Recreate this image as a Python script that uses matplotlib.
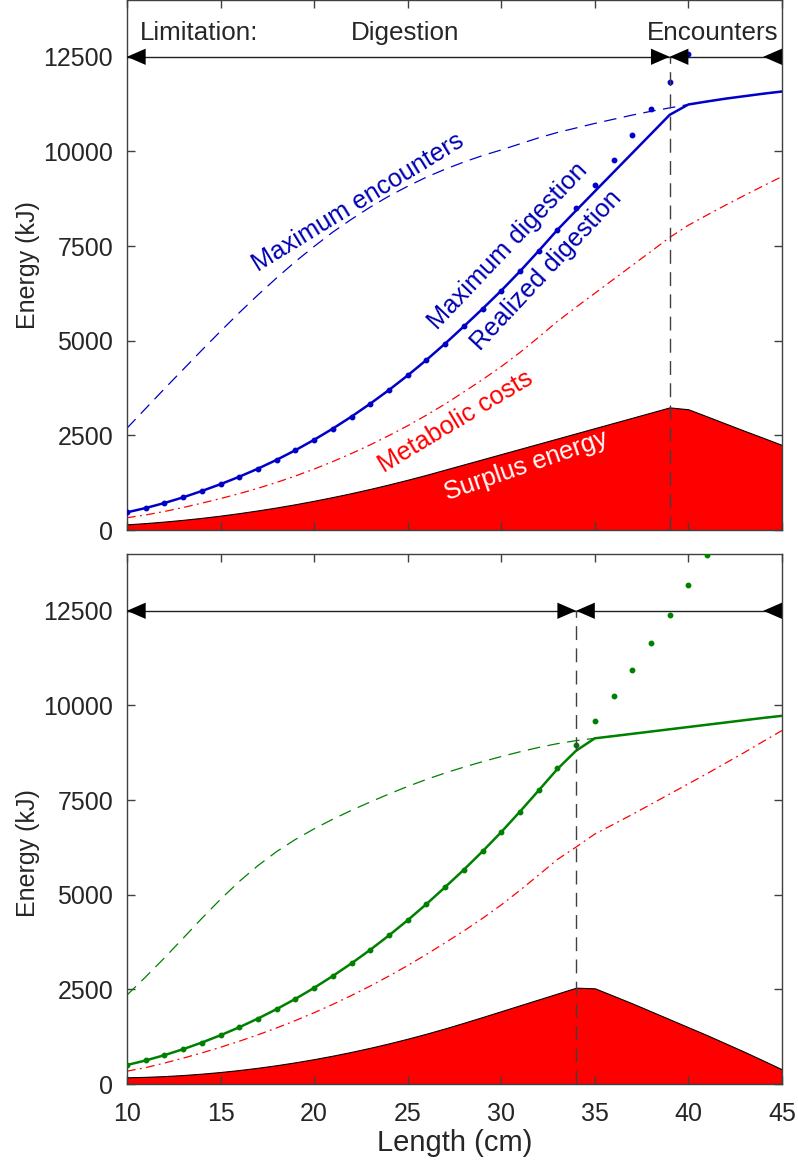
import matplotlib
matplotlib.use("Agg")
import matplotlib.pyplot as plt

plt.rcParams['font.family'] = ['Liberation Sans', 'DejaVu Sans']

# ---------------- data ----------------
length = list(range(10, 46))

# top panel (blue)
top_max_dig_x = list(range(10, 41))
top_max_dig = [467, 581, 713, 863, 1031, 1211, 1407, 1621, 1854, 2108, 2383, 2679, 2997,
               3337, 3699, 4083, 4491, 4923, 5378, 5843, 6323, 6833, 7373, 7928, 8513,
               9118, 9763, 10433, 11113, 11826, 12566]
top_realized = [467, 581, 713, 863, 1031, 1211, 1407, 1621, 1854, 2108, 2383, 2679, 2997,
                3337, 3699, 4083, 4491, 4923, 5378, 5843, 6323, 6833, 7373, 7928, 8440,
                8945, 9450, 9955, 10460, 10967, 11240, 11320, 11395, 11460, 11525, 11583]
top_max_enc = [2690, 3210, 3730, 4240, 4750, 5250, 5740, 6210, 6660, 7090, 7490, 7870,
               8210, 8530, 8820, 9080, 9320, 9530, 9720, 9890, 10040, 10200, 10360, 10500,
               10620, 10740, 10850, 10960, 11060, 11150, 11240, 11320, 11395, 11460, 11525,
               11583]
top_metabolic = [325, 398, 490, 594, 710, 831, 961, 1103, 1258, 1427, 1610, 1808, 2022,
                 2251, 2495, 2755, 3033, 3328, 3646, 3974, 4317, 4690, 5093, 5511, 5886,
                 6254, 6622, 6990, 7358, 7728, 8051, 8320, 8585, 8840, 9090, 9337]
top_surplus = [150, 183, 223, 269, 321, 380, 446, 518, 596, 681, 773, 871, 975, 1086,
               1204, 1328, 1458, 1595, 1732, 1869, 2006, 2143, 2280, 2417, 2554, 2691,
               2828, 2965, 3102, 3239, 3189, 3000, 2810, 2620, 2435, 2246]
top_switch = 39

# bottom panel (green)
bot_max_dig_x = list(range(10, 42))
bot_max_dig = [502, 622, 762, 920, 1095, 1288, 1499, 1729, 1979, 2249, 2540, 2853, 3188,
               3545, 3925, 4327, 4752, 5200, 5660, 6145, 6655, 7195, 7755, 8335, 8945,
               9580, 10245, 10935, 11650, 12395, 13170, 13970]
bot_realized = [502, 622, 762, 920, 1095, 1288, 1499, 1729, 1979, 2249, 2540, 2853, 3188,
                3545, 3925, 4327, 4752, 5200, 5660, 6145, 6655, 7195, 7755, 8320, 8804,
                9131, 9190, 9250, 9310, 9370, 9430, 9490, 9550, 9610, 9670, 9725]
bot_max_enc = [2350, 2830, 3330, 3850, 4375, 4880, 5350, 5770, 6140, 6460, 6740, 6995,
               7230, 7450, 7660, 7860, 8045, 8215, 8370, 8515, 8650, 8775, 8890, 8990,
               9070, 9131, 9190, 9250, 9310, 9370, 9430, 9490, 9550, 9610, 9670, 9725]
bot_metabolic = [340, 433, 553, 683, 822, 971, 1130, 1300, 1482, 1676, 1883, 2104, 2339,
                 2588, 2852, 3130, 3423, 3731, 4043, 4376, 4731, 5116, 5521, 5931, 6260,
                 6603, 6860, 7120, 7390, 7660, 7930, 8200, 8480, 8760, 9050, 9337]
bot_surplus = [177, 189, 209, 237, 273, 317, 369, 429, 497, 573, 657, 749, 849, 957,
               1073, 1197, 1329, 1469, 1617, 1769, 1924, 2079, 2234, 2389, 2544, 2528,
               2330, 2130, 1920, 1710, 1500, 1290, 1070, 850, 620, 388]
bot_switch = 34

arrow_level = 12500
xticks = [10, 15, 20, 25, 30, 35, 40, 45]
yticks = [0, 2500, 5000, 7500, 10000, 12500]

# ---------------- figure ----------------
fig = plt.figure(figsize=(7.98, 11.69), dpi=100)
ax1 = fig.add_axes([0.1591, 0.5466, 0.8208, 0.4534])
ax2 = fig.add_axes([0.1591, 0.0727, 0.8208, 0.4534])

BLUE = '#0000C8'
GREEN = '#008000'
AXC = '#404040'
TXT = '#262626'


def style_axes(ax, show_xlabels, label_y):
    ax.set_xlim(10, 45)
    ax.set_ylim(0, 14000)
    ax.set_xticks(xticks)
    ax.set_yticks(yticks)
    ax.tick_params(direction='in', length=6, width=1, colors=AXC, labelcolor=TXT,
                   labelsize=18, top=True, right=True)
    ax.tick_params(axis='y', pad=10)
    ax.tick_params(axis='x', pad=13)
    if not show_xlabels:
        ax.tick_params(labelbottom=False)
    for s in ax.spines.values():
        s.set_color(AXC)
        s.set_linewidth(1.0)
    ax.set_ylabel('Energy (kJ)', fontsize=18, color=TXT)
    ax.yaxis.set_label_coords(-0.133, label_y)


def panel(ax, color, max_dig_x, max_dig, realized, max_enc, metabolic, surplus, switch):
    ax.fill_between(length, 0, surplus, facecolor='#FF0000', edgecolor='black',
                    linewidth=0.8, zorder=1)
    ax.plot(length, metabolic, color='#FF0000', lw=0.9,
            linestyle=(0, (7, 3.5, 1.5, 3.5)), zorder=2)
    ax.plot(length, max_enc, color=color, lw=0.9, linestyle=(0, (10, 6)), zorder=2)
    ax.plot(max_dig_x, max_dig, linestyle='none', marker='o', ms=3.2, color=color,
            zorder=3, clip_on=True)
    ax.plot(length, realized, color=color, lw=1.8, zorder=4)
    # arrows and limitation boundary
    ax.plot([10, 45], [arrow_level, arrow_level], color='#202020', lw=1.0, zorder=5)
    ax.plot([switch, switch], [0, arrow_level], color='#404040', lw=1.0,
            linestyle=(0, (10, 6)), zorder=5)
    head_len = 1.0
    half_h = 215
    for tip, direction in [(10, -1), (switch, 1), (switch, -1), (44, -1)]:
        base = tip - direction * head_len
        ax.fill([tip, base, base], [arrow_level, arrow_level + half_h, arrow_level - half_h],
                color='black', lw=0, zorder=6, clip_on=False)


panel(ax1, BLUE, top_max_dig_x, top_max_dig, top_realized, top_max_enc, top_metabolic,
      top_surplus, top_switch)
panel(ax2, GREEN, bot_max_dig_x, bot_max_dig, bot_realized, bot_max_enc, bot_metabolic,
      bot_surplus, bot_switch)

style_axes(ax1, False, 0.5)
style_axes(ax2, True, 0.436)
ax2.set_xlabel('Length (cm)', fontsize=21, color=TXT)
ax2.xaxis.set_label_coords(0.5, -0.085)

# top annotations
ax1.text(13.83, 12940, 'Limitation:', fontsize=18.7, color=TXT, ha='center', va='baseline')
ax1.text(24.87, 12940, 'Digestion', fontsize=18.7, color=TXT, ha='center', va='baseline')
ax1.text(41.3, 12940, 'Encounters', fontsize=18.7, color=TXT, ha='center', va='baseline')

TB = '#0000B4'
ax1.text(22.37, 8642, 'Maximum encounters', fontsize=18.3, color=TB, rotation=31.5,
         ha='center', va='center', rotation_mode='anchor')
ax1.text(30.35, 7510, 'Maximum digestion', fontsize=18.3, color=TB, rotation=46.5,
         ha='center', va='center', rotation_mode='anchor')
ax1.text(32.43, 6850, 'Realized digestion', fontsize=18.3, color=TB, rotation=47,
         ha='center', va='center', rotation_mode='anchor')
ax1.text(27.54, 2862, 'Metabolic costs', fontsize=18.3, color='#FF0000', rotation=31,
         ha='center', va='center', rotation_mode='anchor')
ax1.text(31.32, 1697, 'Surplus energy', fontsize=18.3, color='white', rotation=19,
         ha='center', va='center', rotation_mode='anchor')

fig.savefig('out.png', dpi=100)
